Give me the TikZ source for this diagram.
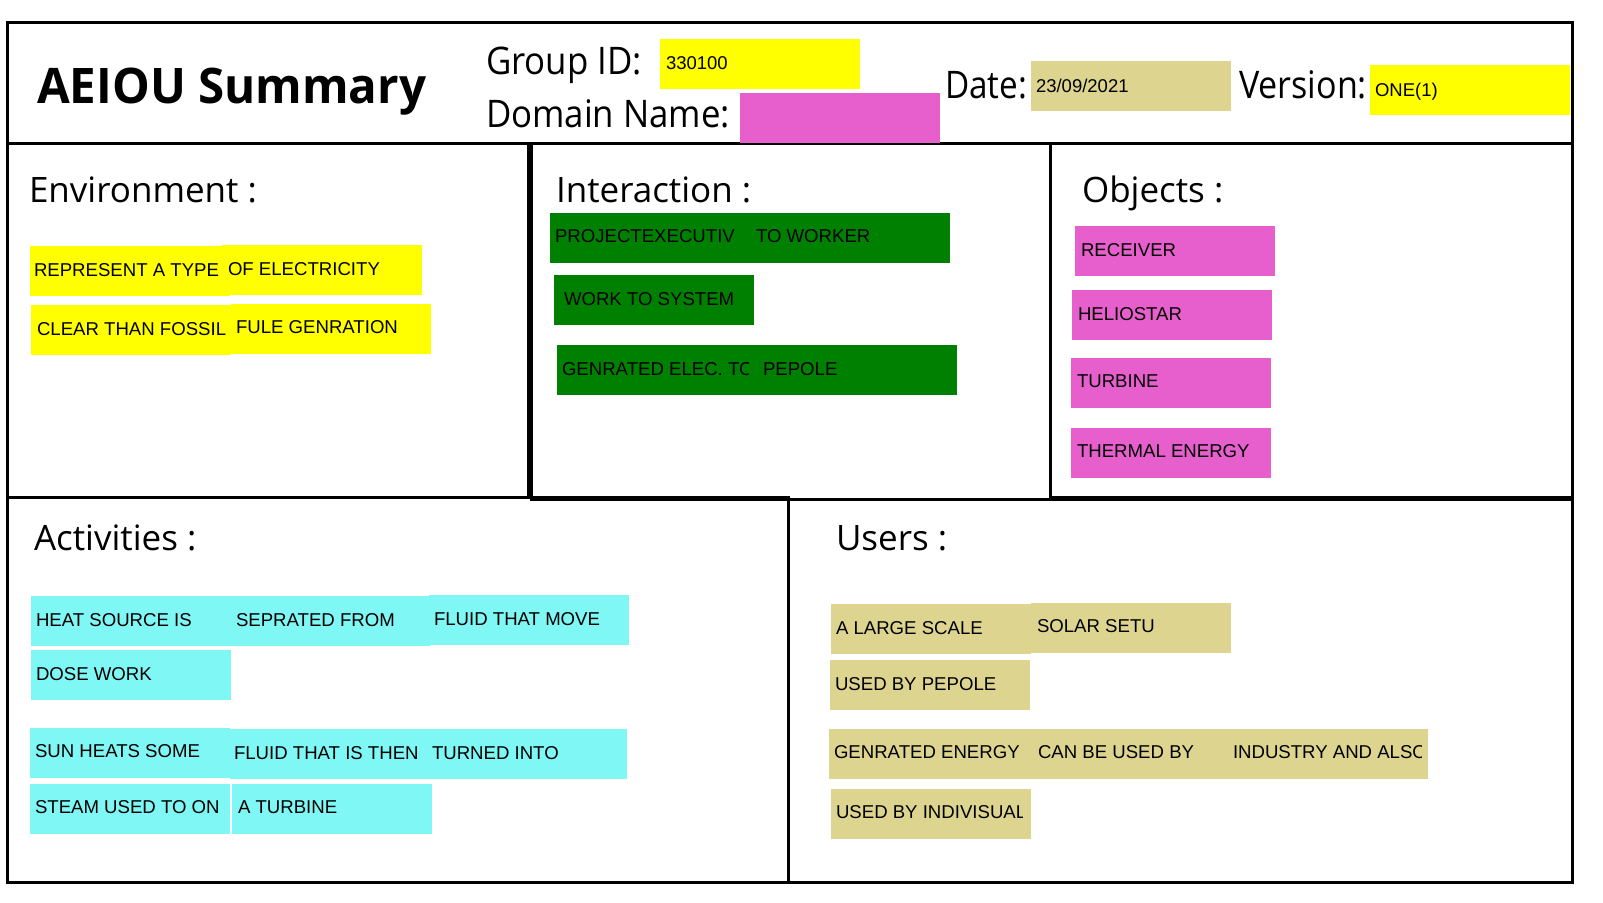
\documentclass[tikz,border=0pt]{standalone}
\usepackage{fontspec}
\usepackage{graphicx}
\setmainfont{Liberation Sans}
\newfontfamily\headfont{Open Sans}
\newcommand\fitwidth[2]{\resizebox{#1}{\height}{#2}}
\definecolor{ycol}{HTML}{FFFF00}
\definecolor{mcol}{HTML}{E65FCD}
\definecolor{kcol}{HTML}{DDD58F}
\definecolor{ccol}{HTML}{7FF7F5}
\definecolor{gcol}{HTML}{008000}
\tikzset{
  frame/.style={draw=black, line width=3pt},
  note/.style={inner sep=0pt, outer sep=0pt, minimum width=200pt, minimum height=50pt, anchor=north west},
  txt/.style={anchor=base west, inner sep=0pt, outer sep=0pt, font=\fontsize{18.6}{22}\selectfont},
  valtxt/.style={anchor=base west, inner sep=0pt, outer sep=0pt, font=\fontsize{18.5}{22}\selectfont},
  head/.style={anchor=base west, inner sep=0pt, outer sep=0pt, font=\headfont\fontsize{35}{40}\selectfont},
  hlabel/.style={anchor=base west, inner sep=0pt, outer sep=0pt, font=\headfont\fontsize{38}{44}\selectfont},
}
\begin{document}
\begin{tikzpicture}[x=1pt,y=-1pt]
\useasboundingbox (0,0) rectangle (1603,902);
% frames
\draw[frame] (7,22) rectangle (1572,143);
\draw[frame] (7,143) rectangle (528,497);
\draw[frame] (531,143) rectangle (1050,499);
\draw[frame] (1050,143) rectangle (1572,497);
\draw[frame] (7,497) rectangle (788,882);
\draw[frame] (788,499) rectangle (1572,882);

% header
\node[anchor=base west, inner sep=0pt, font=\headfont\bfseries\fontsize{49}{56}\selectfont] (title) at (37,103) {\fitwidth{389pt}{AEIOU Summary}};
\node[hlabel] (gidl) at (486,74) {\fitwidth{156pt}{Group ID:}};
\node[hlabel] (doml) at (486,127) {\fitwidth{244pt}{Domain Name:}};
\node[hlabel] (datel) at (945,98) {\fitwidth{82pt}{Date:}};
\node[hlabel] (verl) at (1239,98) {\fitwidth{128pt}{Version:}};
\node[note, fill=ycol] (gid) at (660,39) {};
\node[note, fill=mcol] (dom) at (740,93) {};
\node[note, fill=kcol] (date) at (1031,61) {};
\node[note, fill=ycol] (ver) at (1370,65) {};
\node[valtxt] (gidt) at (666,69) {330100};
\node[valtxt] (datet) at (1036,92) {23/09/2021};
\node[valtxt] (vert) at (1375,96) {ONE(1)};

% headings
\node[head] (envh) at (29,202) {Environment :};
\node[head] (inth) at (556,202) {Interaction :};
\node[head] (objh) at (1082,202) {Objects :};
\node[head] (acth) at (34,550) {Activities :};
\node[head] (useh) at (836,550) {Users :};

% environment
\node[note, fill=ycol] (e1a) at (30,246) {};
\node[note, fill=ycol] (e1b) at (222,245) {};
\node[note, fill=ycol] (e2a) at (31,305) {};
\node[note, fill=ycol] (e2b) at (231,304) {};
\node[txt] (e1at) at (34,276) {REPRESENT A TYPE};
\node[txt] (e1bt) at (228,275) {OF ELECTRICITY};
\node[txt] (e2at) at (37,335) {CLEAR THAN FOSSIL};
\node[txt] (e2bt) at (236,333) {FULE GENRATION};

% interaction
\node[note, fill=gcol, minimum width=400pt] (i1) at (550,213) {};
\node[note, fill=gcol] (i2) at (554,275) {};
\node[note, fill=gcol, minimum width=400pt] (i3) at (557,345) {};
\node[txt] (i1at) at (555,242) {PROJECTEXECUTIV};
\node[txt] (i1bt) at (756,242) {TO WORKER};
\node[txt] (i2t) at (564,305) {WORK TO SYSTEM};
\begin{scope}
\clip (557,345) rectangle (748,395);
\node[txt] (i3at) at (562,375) {GENRATED ELEC. TO};
\end{scope}
\node[txt] (i3bt) at (763,375) {PEPOLE};

% objects
\node[note, fill=mcol] (o1) at (1075,226) {};
\node[note, fill=mcol] (o2) at (1072,290) {};
\node[note, fill=mcol] (o3) at (1071,358) {};
\node[note, fill=mcol] (o4) at (1071,428) {};
\node[txt] (o1t) at (1081,256) {RECEIVER};
\node[txt] (o2t) at (1078,320) {HELIOSTAR};
\node[txt] (o3t) at (1077,387) {TURBINE};
\node[txt] (o4t) at (1077,457) {THERMAL ENERGY};

% activities
\node[note, fill=ccol] (a1a) at (31,596) {};
\node[note, fill=ccol] (a1b) at (230,596) {};
\node[note, fill=ccol] (a1c) at (429,595) {};
\node[note, fill=ccol] (a2) at (31,650) {};
\node[note, fill=ccol] (a3a) at (30,728) {};
\node[note, fill=ccol, minimum width=397pt] (a3b) at (230,729) {};
\node[note, fill=ccol] (a4a) at (30,784) {};
\node[note, fill=ccol] (a4b) at (232,784) {};
\node[txt] (a1at) at (36,626) {HEAT SOURCE IS};
\node[txt] (a1bt) at (236,626) {SEPRATED FROM};
\node[txt] (a1ct) at (434,625) {FLUID THAT MOVE};
\node[txt] (a2t) at (36,680) {DOSE WORK};
\node[txt] (a3at) at (35,757) {SUN HEATS SOME};
\node[txt] (a3bt) at (234,759) {FLUID THAT IS THEN};
\node[txt] (a3ct) at (432,759) {TURNED INTO};
\node[txt] (a4at) at (35,813) {STEAM USED TO ON};
\node[txt] (a4bt) at (238,813) {A TURBINE};

% users
\node[note, fill=kcol] (u1a) at (831,604) {};
\node[note, fill=kcol] (u1b) at (1031,603) {};
\node[note, fill=kcol] (u2) at (830,660) {};
\node[note, fill=kcol, minimum width=599pt] (u3) at (829,729) {};
\node[note, fill=kcol] (u4) at (831,789) {};
\node[txt] (u1at) at (836,634) {A LARGE SCALE};
\node[txt] (u1bt) at (1037,632) {SOLAR SETU};
\node[txt] (u2t) at (835,690) {USED BY PEPOLE};
\node[txt] (u3at) at (834,758) {GENRATED ENERGY};
\node[txt] (u3bt) at (1038,758) {CAN BE USED BY};
\begin{scope}
\clip (1229,729) rectangle (1421,779);
\node[txt] (u3ct) at (1233,758) {INDUSTRY AND ALSO};
\end{scope}
\begin{scope}
\clip (831,789) rectangle (1022,839);
\node[txt] (u4t) at (836,818) {USED BY INDIVISUAL};
\end{scope}
\end{tikzpicture}
\end{document}
